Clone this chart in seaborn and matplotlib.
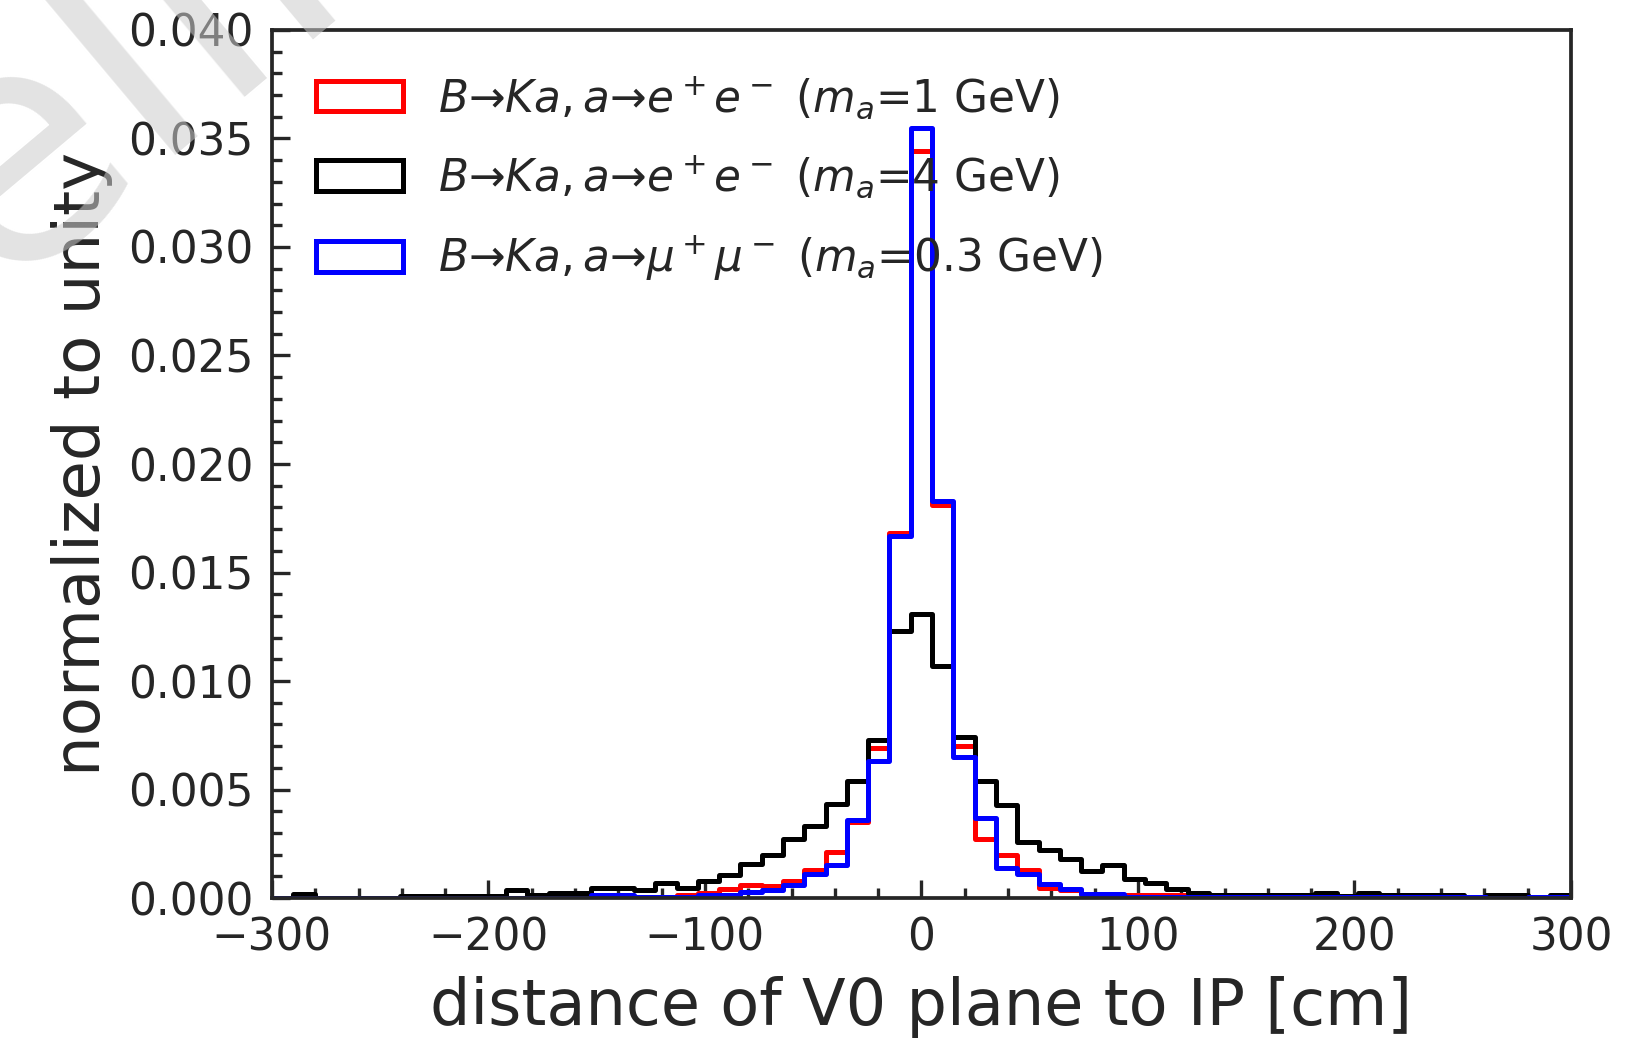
import numpy as np
import pandas as pd
import matplotlib
matplotlib.use("Agg")
import matplotlib.pyplot as plt
import seaborn as sns
from matplotlib.patches import Patch
from matplotlib.ticker import MultipleLocator, FormatStrFormatter

# 61 bins between -300 and 300 cm
edges = np.linspace(-300, 300, 62)
centers = 0.5 * (edges[:-1] + edges[1:])

# bin heights (units of 1e-3)
ee_1gev = [0, 0, 0, 0, 0, 0, 0, 0, 0, 0,
           0, 0, 0, 0, 0, 0, 0, 0, 0.05, 0.12,
           0.25, 0.4, 0.6, 0.55, 0.8, 1.3, 2.1, 3.5, 6.9, 16.8,
           34.4, 18.1, 7.0, 2.7, 2.0, 1.3, 0.45, 0.35, 0.2, 0.15,
           0.12, 0.12, 0.12, 0.12, 0, 0, 0, 0, 0, 0,
           0, 0, 0, 0, 0, 0, 0, 0, 0, 0, 0]
ee_4gev = [0, 0.2, 0, 0, 0, 0, 0.1, 0.1, 0.1, 0.1,
           0.1, 0.35, 0.13, 0.24, 0.24, 0.47, 0.47, 0.35, 0.71, 0.47,
           0.8, 1.05, 1.55, 2.0, 2.7, 3.3, 4.35, 5.4, 7.3, 12.3,
           13.1, 10.7, 7.4, 5.4, 4.3, 2.6, 2.2, 1.8, 1.25, 1.5,
           0.9, 0.7, 0.4, 0.25, 0.16, 0.16, 0.16, 0.16, 0.16, 0.22,
           0.1, 0.22, 0.16, 0.14, 0.14, 0.14, 0, 0.14, 0.14, 0, 0.14]
mumu_03gev = [0.02, 0.02, 0.02, 0.02, 0.02, 0.02, 0.02, 0.02, 0.02, 0.02,
              0.02, 0.02, 0.02, 0.02, 0.02, 0.12, 0.12, 0.04, 0.04, 0.04,
              0.12, 0.15, 0.3, 0.35, 0.6, 1.1, 1.5, 3.6, 6.3, 16.7,
              35.5, 18.3, 6.5, 3.7, 1.4, 1.1, 0.65, 0.4, 0.2, 0.18,
              0.04, 0.03, 0.03, 0.03, 0.03, 0.03, 0.03, 0.03, 0.03, 0.03,
              0.03, 0.03, 0.03, 0.03, 0.03, 0.03, 0.05, 0.02, 0.02, 0.04, 0.03]

labels = [r"$B$→$Ka, a$→$e^+e^-$ $(m_a$=1 GeV)",
          r"$B$→$Ka, a$→$e^+e^-$ $(m_a$=4 GeV)",
          r"$B$→$Ka, a$→$\mu^+\mu^-$ $(m_a$=0.3 GeV)"]
colors = ["red", "black", "blue"]
series = [ee_1gev, ee_4gev, mumu_03gev]

sns.set_style("ticks")
plt.rcParams["font.family"] = ["DejaVu Sans"]
plt.rcParams["mathtext.fontset"] = "dejavusans"

fig = plt.figure(figsize=(5.5, 3.4667), dpi=300)
ax = fig.add_axes([0.1648, 0.1365, 0.7873, 0.8347])

for vals, col in zip(series, colors):
    df = pd.DataFrame({"x": centers, "w": np.array(vals) * 1e-3})
    sns.histplot(data=df, x="x", weights="w", bins=61, binrange=(-300, 300),
                 element="step", fill=False, color=col, linewidth=1.2, ax=ax)

ax.set_xlim(-300, 300)
ax.set_ylim(0, 0.040)
ax.xaxis.set_major_locator(MultipleLocator(100))
ax.xaxis.set_minor_locator(MultipleLocator(20))
ax.yaxis.set_major_locator(MultipleLocator(0.005))
ax.yaxis.set_minor_locator(MultipleLocator(0.001))
ax.yaxis.set_major_formatter(FormatStrFormatter("%.3f"))
ax.tick_params(which="both", direction="in", top=False, right=False,
               labelsize=10.5, width=0.8)
ax.tick_params(which="major", length=4.4, pad=4.5)
ax.tick_params(which="minor", length=2.4)
for s in ax.spines.values():
    s.set_linewidth(0.9)

ax.set_xlabel("distance of V0 plane to IP [cm]", fontsize=15.3, labelpad=4)
ax.set_ylabel("normalized to unity", fontsize=15.4, labelpad=3.5)

handles = [Patch(facecolor="none", edgecolor=c, linewidth=1.2) for c in colors]
ax.legend(handles, labels, loc="upper left", frameon=False, fontsize=10.5,
          handlelength=2.0, handleheight=0.7, handletextpad=0.8,
          labelspacing=0.75, borderaxespad=0.6)

fig.text(-0.152, 0.533, "Preliminary", fontsize=78, rotation=40,
         rotation_mode="anchor", ha="left", va="baseline",
         color="0.8", alpha=0.55, zorder=10)

fig.savefig("out.png", dpi=300)
